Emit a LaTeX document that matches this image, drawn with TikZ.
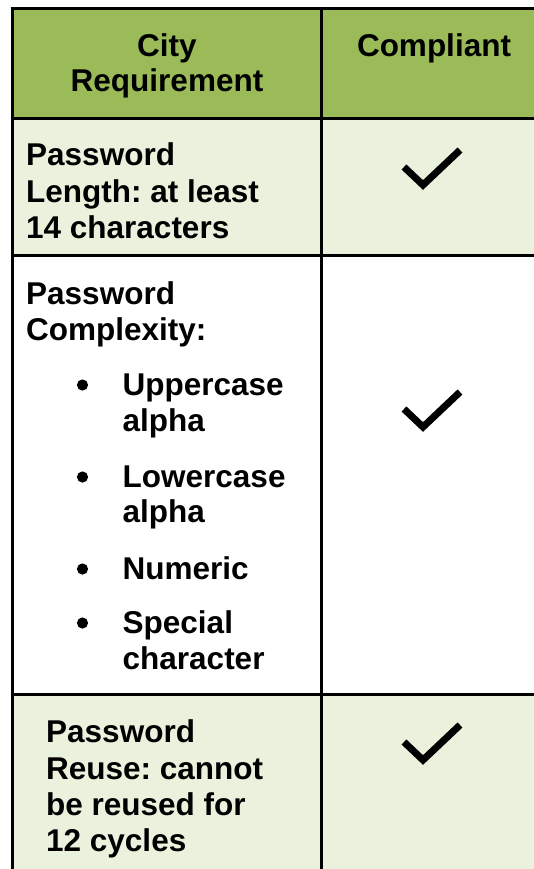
\documentclass[tikz,border=0pt]{standalone}
\usepackage{fontspec}
\setmainfont{Liberation Sans}
\frenchspacing

\definecolor{headgreen}{HTML}{9BBB59}
\definecolor{rowgreen}{HTML}{EAF1DD}

\tikzset{
  cell/.style={anchor=base west, inner sep=0pt, font=\fontsize{31.5}{36.5}\selectfont\bfseries},
  head/.style={cell, anchor=base},
  rule/.style={line width=3pt},
  tick/.style={line width=7pt, miter limit=10},
}

\begin{document}
\begin{tikzpicture}[x=1pt,y=-1pt]
  \useasboundingbox (0,0) rectangle (534,869);
  % cell backgrounds
  \fill[headgreen] (12,9) rectangle (534,118.5);
  \fill[rowgreen] (12,118.5) rectangle (534,255.5);
  \fill[rowgreen] (12,694.5) rectangle (534,869);

  % header row
  \node[head] (city) at (167,57) {City};
  \node[head] (req) at (167,92) {Requirement};
  \node[head] (compl) at (434,57) {Compliant};

  % length
  \node[cell] (len1) at (26,165.5) {Password};
  \node[cell] (len2) at (26,202) {Length: at least};
  \node[cell] (len3) at (26,238.5) {14 characters};

  % complexity
  \node[cell] (cpx1) at (26,304) {Password};
  \node[cell] (cpx2) at (26,340) {Complexity:};
  \node[cell] (upper1) at (122.5,395) {Uppercase};
  \node[cell] (upper2) at (122.5,431) {alpha};
  \node[cell] (lower1) at (122.5,487) {Lowercase};
  \node[cell] (lower2) at (122.5,522.5) {alpha};
  \node[cell] (numeric) at (122.5,579) {Numeric};
  \node[cell] (special1) at (122.5,633) {Special};
  \node[cell] (special2) at (122.5,669.5) {character};
  \foreach \y in {385,477,569,623}
    \fill (82.5,\y) circle [radius=5.6pt];

  % reuse
  \node[cell] (reuse1) at (46,742) {Password};
  \node[cell] (reuse2) at (46,779) {Reuse: cannot};
  \node[cell] (reuse3) at (46,815) {be reused for};
  \node[cell] (reuse4) at (46,851.5) {12 cycles};

  % check marks
  \foreach \y in {148,390,723}
    \draw[tick] (404,\y+19) -- (423,\y+37) -- (460,\y+2);

  % table rules
  \draw[rule] (10.5,9) -- (534,9);
  \draw[rule] (12,7.5) -- (12,869);
  \draw[rule] (321.5,7.5) -- (321.5,869);
  \foreach \y in {118.5,255.5,694.5}
    \draw[rule] (10.5,\y) -- (534,\y);
\end{tikzpicture}
\end{document}
